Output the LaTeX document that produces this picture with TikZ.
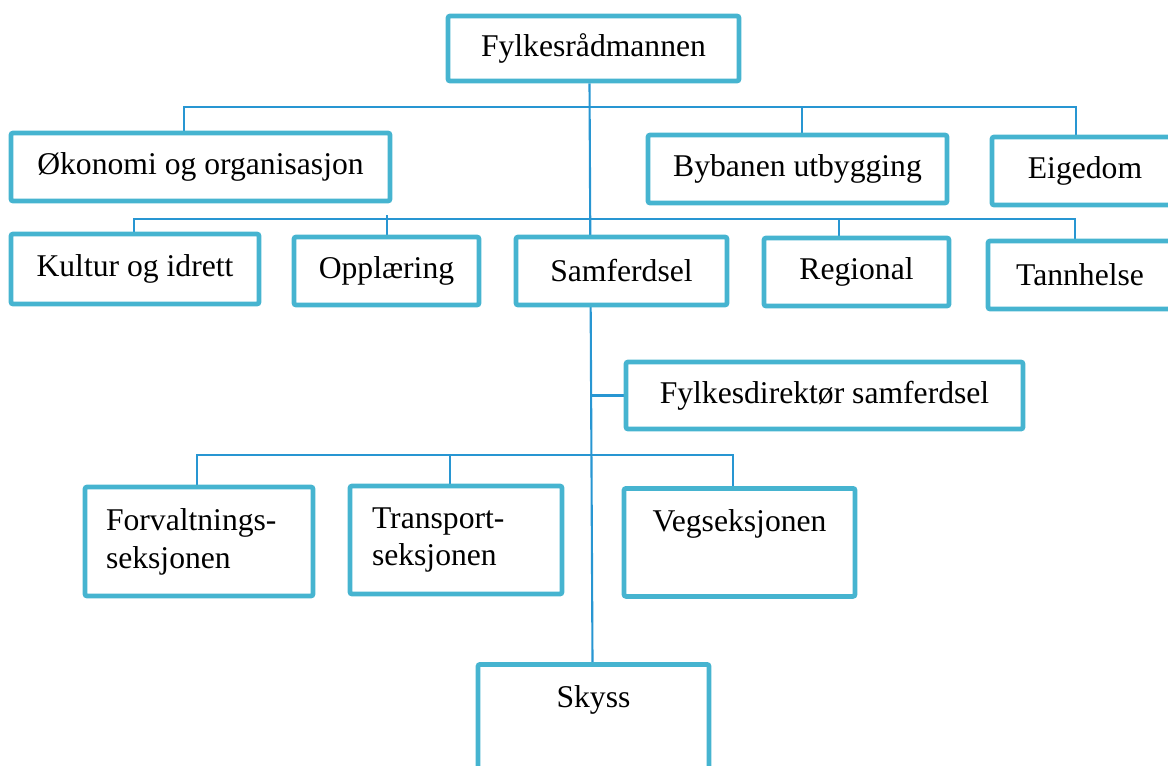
\documentclass[tikz,border=0pt]{standalone}
\usepackage{fontspec}
\setmainfont{Liberation Serif}
\usetikzlibrary{backgrounds}
\definecolor{boxblue}{RGB}{70,180,208}
\definecolor{linkblue}{RGB}{40,150,210}
\newcommand{\px}{0.025cm}

\begin{document}
\begin{tikzpicture}[x=\px, y=-\px,
        orgbox/.style 2 args={draw=boxblue, line width=3.4pt, fill=white, rounded corners=1.5pt,
            minimum width=#1*\px, minimum height=#2*\px,
            font=\fontsize{22.5}{27}\selectfont, text=black},
        link/.style={draw=linkblue, line width=1.5pt}]
        \useasboundingbox (0,0) rectangle (1168,765);
        \clip (0,0) rectangle (1168,765);
        % ==== TOP ====
        \node[orgbox={291}{65}] (top) at (593.5,48.5) {Fylkesrådmannen};
        % ==== STAFF UNITS ====
        \node[orgbox={379}{68}] (oko) at (200.5,167) {Økonomi og organisasjon};
        \node[orgbox={299}{68}] (byb) at (797.5,169) {Bybanen utbygging};
        \node[orgbox={186}{68}] (eig) at (1085,171) {Eigedom};
        % ==== DEPARTMENTS ====
        \node[orgbox={248}{70}] (kul) at (135,269) {Kultur og idrett};
        \node[orgbox={185}{68}] (opp) at (386.5,271) {Opplæring};
        \node[orgbox={211}{68}] (sam) at (621.5,271) {Samferdsel};
        \node[orgbox={185}{68}] (reg) at (856.5,272) {Regional};
        \node[orgbox={184}{68}] (tan) at (1080,275) {Tannhelse};
        % ==== SAMFERDSEL ====
        \node[orgbox={397}{67}] (fyd) at (824.5,395.5) {Fylkesdirektør samferdsel};
        \node[orgbox={228}{109}, align=left, text width=186*\px] (forv) at (199,541.5)
            {Forvaltnings-\\seksjonen};
        \node[orgbox={212}{108}, align=left, text width=168*\px] (tra) at (456,540)
            {Transport-\\seksjonen};
        \node[orgbox={231}{0}, anchor=north, inner ysep=0pt, text height=30.6pt, text depth=46.2pt]
            (veg) at (739.5,486) {Vegseksjonen};
        \node[orgbox={231}{0}, anchor=north, inner ysep=0pt, text height=30.6pt, text depth=85pt]
            (sky) at (593.5,662) {Skyss};
        % ==== LINES ====
        \begin{scope}[on background layer]
            \draw[link] ([xshift=-4*\px]top.south) -- ([xshift=-1*\px]sky.north);
            \draw[link] (oko.north -| 184,0) -- (184,107) -- (1076,107) -- (eig.north -| 1076,0);
            \draw[link] (byb.north -| 802,0) -- (802,107);
            \draw[link] (kul.north -| 134,0) -- (134,219) -- (1075,219) -- (tan.north -| 1075,0);
            \draw[link] (opp.north -| 387,0) -- (387,215);
            \draw[link] (reg.north -| 839,0) -- (839,219);
            \draw[link] (fyd.west -| 591,0) -- (fyd.west);
            \draw[link] (forv.north -| 197,0) -- (197,455) -- (733,455) -- (veg.north -| 733,0);
            \draw[link] (tra.north -| 450,0) -- (450,455);
        \end{scope}
     \end{tikzpicture}
\end{document}
